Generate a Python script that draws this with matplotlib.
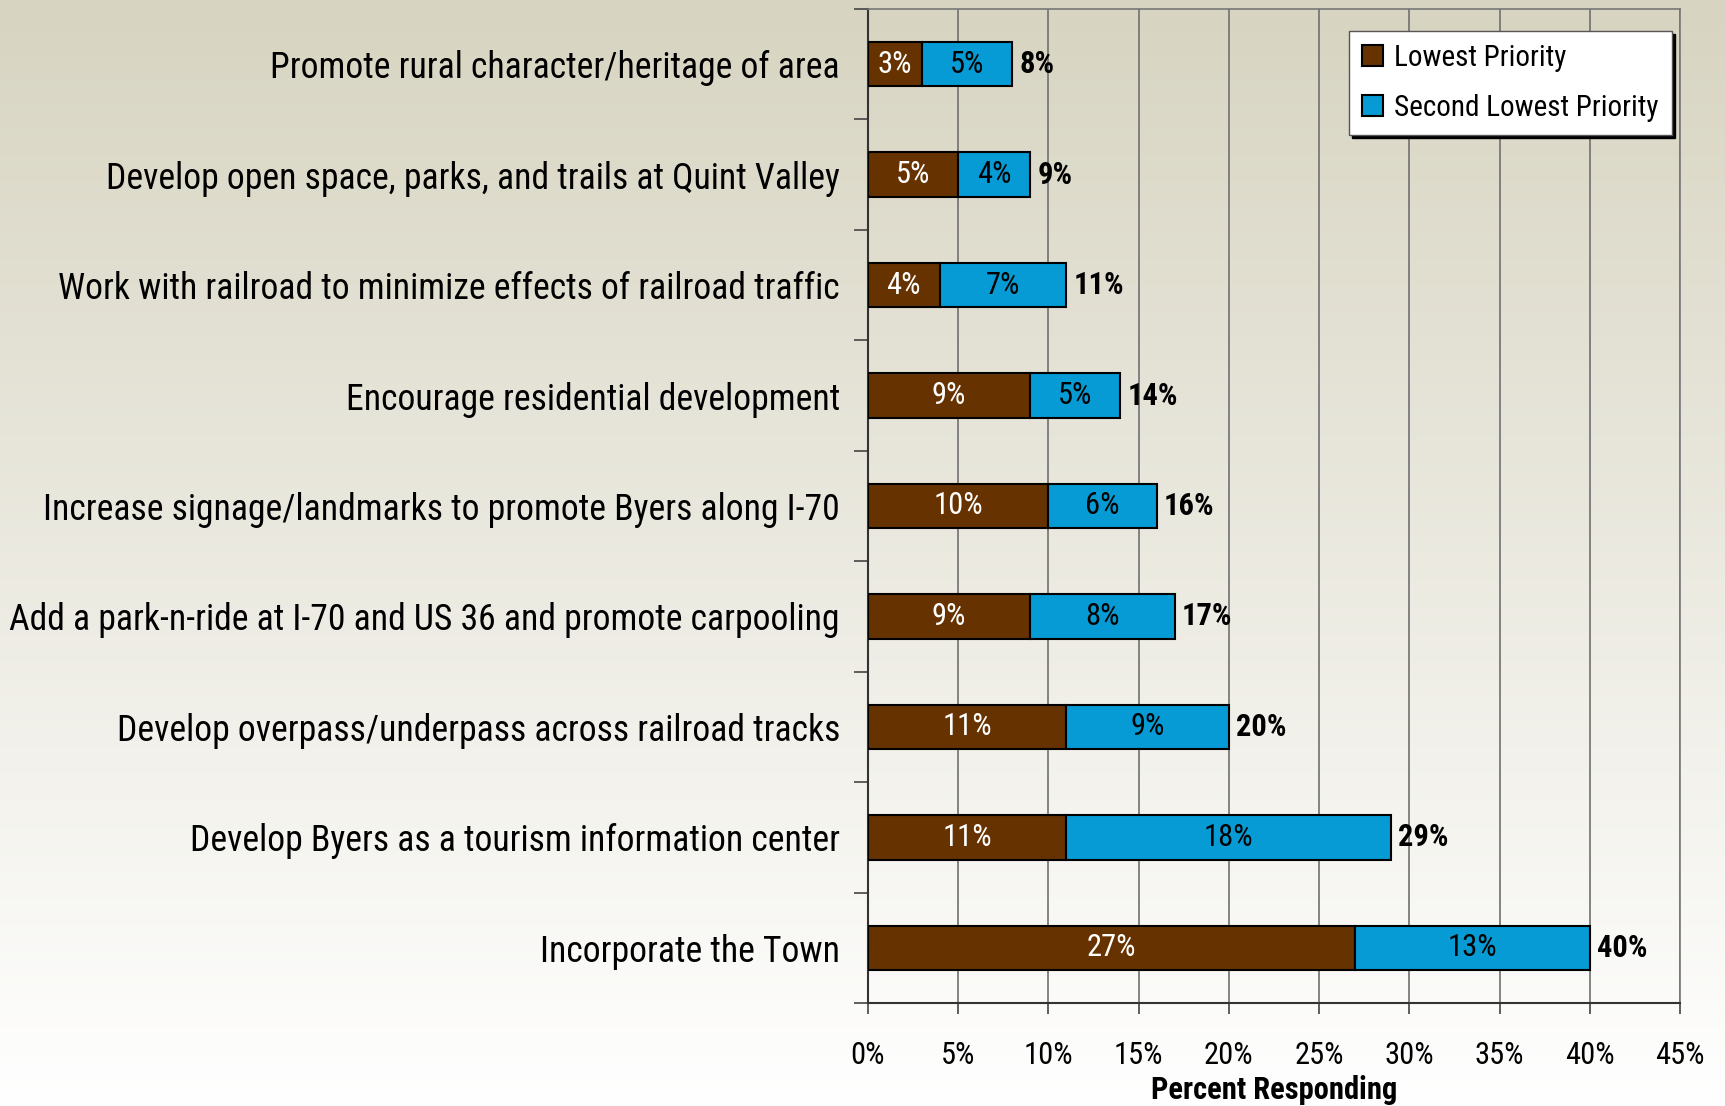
import numpy as np
import matplotlib
matplotlib.use("Agg")
import matplotlib.pyplot as plt
from matplotlib.ticker import FuncFormatter

# data, top to bottom as in the chart
categories = [
    "Promote rural character/heritage of area",
    "Develop open space, parks, and trails at Quint Valley",
    "Work with railroad to minimize effects of railroad traffic",
    "Encourage residential development",
    "Increase signage/landmarks to promote Byers along I-70",
    "Add a park-n-ride at I-70 and US 36 and promote carpooling",
    "Develop overpass/underpass across railroad tracks",
    "Develop Byers as a tourism information center",
    "Incorporate the Town",
]
lowest = [3, 5, 4, 9, 10, 9, 11, 11, 27]
second_lowest = [5, 4, 7, 5, 6, 8, 9, 18, 13]
x_ticks = [0, 5, 10, 15, 20, 25, 30, 35, 40, 45]

BROWN = "#663300"
BLUE = "#069bd4"
plt.rcParams["font.family"] = ["Roboto Condensed", "Archivo Narrow", "DejaVu Sans"]

fig = plt.figure(figsize=(17.25, 11.06), dpi=100)

# gradient background over whole figure
bg = fig.add_axes([0, 0, 1, 1], zorder=-10)
top = np.array([215, 212, 193]) / 255.0
bot = np.array([255, 255, 255]) / 255.0
t = np.linspace(0, 1, 256)[:, None]
grad = top * (1 - t) + bot * t
bg.imshow(grad[:, None, :], aspect="auto", extent=[0, 1, 0, 1])
bg.axis("off")

ax = fig.add_axes([0.503, 0.093, 0.471, 0.899])
ax.patch.set_alpha(0)

n = len(categories)
y = np.arange(n)
low = np.array(lowest)
sec = np.array(second_lowest)
ax.barh(y, low, height=0.4, color=BROWN, edgecolor="black", linewidth=1.5,
        label="Lowest Priority", zorder=3)
ax.barh(y, sec, left=low, height=0.4, color=BLUE, edgecolor="black", linewidth=1.5,
        label="Second Lowest Priority", zorder=3)

for i in range(n):
    ax.text(low[i] / 2, y[i], f"{low[i]}%", ha="center", va="center",
            color="white", fontsize=22, zorder=4)
    ax.text(low[i] + sec[i] / 2, y[i], f"{sec[i]}%", ha="center", va="center",
            color="black", fontsize=22, zorder=4)
    ax.text(low[i] + sec[i] + 0.4, y[i], f"{low[i] + sec[i]}%", ha="left",
            va="center", color="black", fontsize=22, fontweight="bold", zorder=4)

ax.set_xlim(0, 45)
ax.set_ylim(n - 0.5, -0.5)
ax.set_xticks(x_ticks)
ax.xaxis.set_major_formatter(FuncFormatter(lambda v, p: f"{v:.0f}%"))
ax.tick_params(axis="x", labelsize=22, length=8, width=1.2, pad=19, color="#444444")
ax.grid(axis="x", color="#707070", linewidth=1.2, zorder=0)

ax.set_yticks(np.arange(-0.5, n, 1))
ax.set_yticklabels([])
ax.set_yticks(y, minor=True)
ax.set_yticklabels(categories, minor=True)
ax.tick_params(axis="y", which="major", length=10, width=1.2, color="#444444")
ax.tick_params(axis="y", which="minor", length=0, labelsize=25.7, pad=20)

for s in ["left", "bottom"]:
    ax.spines[s].set_color("#333333")
    ax.spines[s].set_linewidth(1.5)
for s in ["top", "right"]:
    ax.spines[s].set_color("#777777")
    ax.spines[s].set_linewidth(1.2)

ax.set_xlabel("Percent Responding", fontsize=22, fontweight="bold", labelpad=4)

leg = ax.legend(loc="upper right", bbox_to_anchor=(0.99, 0.978), borderaxespad=0,
                fontsize=21, frameon=True, fancybox=False, framealpha=1,
                edgecolor="#555555", shadow={"color": "black", "alpha": 1},
                handlelength=0.7, handleheight=0.7, handletextpad=0.4,
                labelspacing=0.75, borderpad=0.45)
for h in leg.legend_handles:
    h.set_linewidth(1.5)

fig.savefig("out.png", dpi=100)
